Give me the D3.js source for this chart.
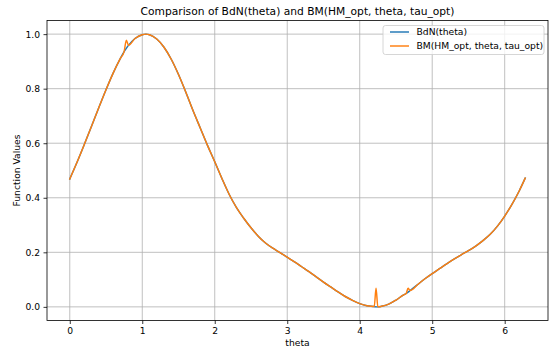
<!DOCTYPE html>
<html><head><meta charset="utf-8">
<script src="https://cdn.jsdelivr.net/npm/d3@7/dist/d3.min.js"></script>
<style>body{margin:0;background:#fff}svg{display:block}text{font-family:"DejaVu Sans",sans-serif;fill:#000}</style>
</head><body><svg id="c" width="553" height="351"></svg>
<script>
const thetas = [0,0.1,0.2,0.3,0.4,0.5,0.6,0.7,0.75,0.78,0.81,0.9,1.0,1.05,1.1,1.2,1.3,1.4,1.5,1.6,1.7,1.8,1.9,2.0,2.1,2.2,2.3,2.4,2.5,2.6,2.7,2.8,2.9,3.0,3.1,3.2,3.3,3.4,3.5,3.6,3.7,3.8,3.9,4.0,4.1,4.2,4.225,4.25,4.3,4.4,4.5,4.6,4.64,4.667,4.695,4.8,4.9,5.0,5.1,5.2,5.3,5.4,5.5,5.6,5.7,5.8,5.9,6.0,6.1,6.2,6.283];
const bdn = [0.469,0.530,0.595,0.662,0.730,0.796,0.858,0.912,0.936,0.948,0.959,0.984,0.998,1.000,0.998,0.982,0.952,0.908,0.852,0.788,0.720,0.656,0.592,0.532,0.470,0.412,0.364,0.325,0.290,0.259,0.234,0.215,0.199,0.182,0.165,0.147,0.129,0.110,0.091,0.073,0.055,0.038,0.024,0.012,0.004,0.001,0.000,0.000,0.002,0.010,0.025,0.043,0.049,0.054,0.060,0.082,0.103,0.122,0.140,0.158,0.175,0.191,0.206,0.223,0.243,0.266,0.296,0.333,0.376,0.425,0.472];
const bm  = [0.469,0.530,0.595,0.662,0.730,0.796,0.858,0.912,0.936,0.978,0.959,0.984,0.998,1.000,0.998,0.982,0.952,0.908,0.852,0.788,0.720,0.656,0.592,0.532,0.470,0.412,0.364,0.325,0.290,0.259,0.234,0.215,0.199,0.182,0.165,0.147,0.129,0.110,0.091,0.073,0.055,0.038,0.024,0.012,0.004,0.001,0.068,0.000,0.002,0.010,0.025,0.043,0.049,0.068,0.060,0.082,0.103,0.122,0.140,0.158,0.175,0.191,0.206,0.223,0.243,0.266,0.296,0.333,0.376,0.425,0.472];
const xTicks = [0,1,2,3,4,5,6];
const yTicks = [0.0,0.2,0.4,0.6,0.8,1.0];
const seriesNames = ["BdN(theta)","BM(HM_opt, theta, tau_opt)"];
const colors = ["#1f77b4","#ff7f0e"];

const svg = d3.select("#c");
const L=47, R=548, T=20.5, B=320.5;
const x = d3.scaleLinear().domain([-0.31416,6.5973]).range([L,R]);
const y = d3.scaleLinear().domain([-0.05,1.05]).range([B,T]);
const FS = 9.2;

// grid
svg.append("g").selectAll("line").data(xTicks).join("line")
 .attr("x1",d=>x(d)).attr("x2",d=>x(d)).attr("y1",T).attr("y2",B)
 .attr("stroke","#b0b0b0").attr("stroke-width",0.8);
svg.append("g").selectAll("line").data(yTicks).join("line")
 .attr("y1",d=>y(d)).attr("y2",d=>y(d)).attr("x1",L).attr("x2",R)
 .attr("stroke","#b0b0b0").attr("stroke-width",0.8);

const line = d3.line().curve(d3.curveMonotoneX).x(d=>x(d[0])).y(d=>y(d[1]));
[bdn,bm].forEach((s,i)=>{
  svg.append("path").datum(thetas.map((t,j)=>[t,s[j]]))
   .attr("d",line).attr("fill","none").attr("stroke",colors[i])
   .attr("stroke-width",1.45).attr("stroke-linejoin","round").attr("stroke-linecap","square");
});

// axes
const xa = svg.append("g").attr("transform",`translate(0,${B})`)
  .call(d3.axisBottom(x).tickValues(xTicks).tickFormat(d3.format("d")).tickSize(3.5).tickPadding(3.5));
const ya = svg.append("g").attr("transform",`translate(${L},0)`)
  .call(d3.axisLeft(y).tickValues(yTicks).tickFormat(d3.format(".1f")).tickSize(3.5).tickPadding(3.5));
[xa,ya].forEach(a=>{a.select(".domain").remove();
  a.selectAll("text").attr("font-size",FS).attr("font-family","DejaVu Sans").attr("fill","#000");
  a.selectAll("line").attr("stroke","#000").attr("stroke-width",0.8);});
svg.append("rect").attr("x",L).attr("y",T).attr("width",R-L).attr("height",B-T)
 .attr("fill","none").attr("stroke","#000").attr("stroke-width",0.8);

// labels
svg.append("text").attr("x",(L+R)/2).attr("y",15).attr("text-anchor","middle")
 .attr("font-size",10.7).text("Comparison of BdN(theta) and BM(HM_opt, theta, tau_opt)");
svg.append("text").attr("x",(L+R)/2).attr("y",346).attr("text-anchor","middle")
 .attr("font-size",FS).text("theta");
svg.append("text").attr("transform",`translate(20,${(T+B)/2}) rotate(-90)`).attr("text-anchor","middle")
 .attr("font-size",FS).text("Function Values");

// legend
const lg = svg.append("g");
lg.append("rect").attr("x",383).attr("y",25.5).attr("width",161).attr("height",29).attr("rx",2.5)
 .attr("fill","#fff").attr("fill-opacity",0.8).attr("stroke","#ccc").attr("stroke-width",0.8);
seriesNames.forEach((n,i)=>{
  const yy = 32 + i*14;
  lg.append("line").attr("x1",390).attr("x2",409).attr("y1",yy).attr("y2",yy)
   .attr("stroke",colors[i]).attr("stroke-width",1.45);
  lg.append("text").attr("x",416.5).attr("y",yy+3.3).attr("font-size",FS).text(n);
});
</script></body></html>
